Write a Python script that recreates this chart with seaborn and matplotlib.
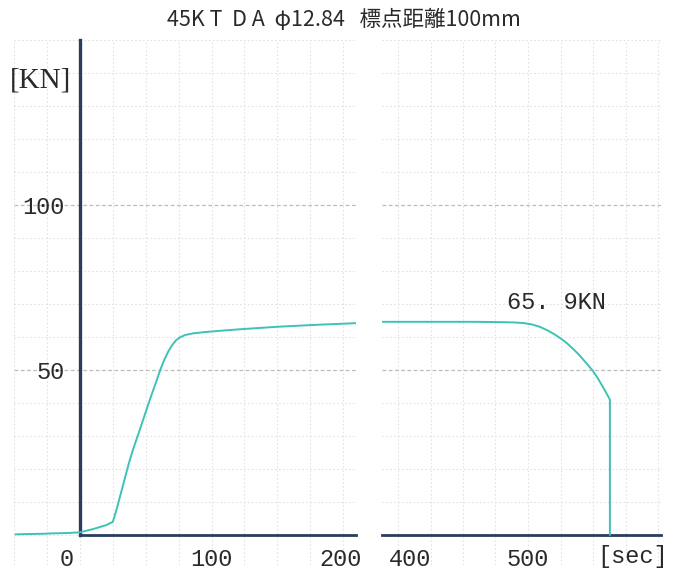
import matplotlib
matplotlib.use("Agg")
import matplotlib.pyplot as plt
import matplotlib.transforms as mtransforms
from matplotlib.ticker import MultipleLocator
import seaborn as sns
import pandas as pd

# ---- data ----
t_load = [-49, -40, -30, -20, -10, 0, 10, 20, 25, 28, 31, 34, 37, 40, 43, 46, 50, 54, 58, 61,
          64, 67, 70, 73, 76, 80, 86, 95, 101, 120, 150, 180, 210]
f_load = [0.2, 0.3, 0.35, 0.5, 0.6, 0.8, 1.8, 3.0, 4.0, 8.0, 12.5, 17.0, 21.5, 25.5, 29.0, 32.5,
          37.3, 42.0, 46.5, 50.0, 53.0, 55.5, 57.5, 59.0, 59.9, 60.6, 61.1, 61.5, 61.7, 62.3,
          63.1, 63.7, 64.2]

t_end = [388, 420, 460, 480, 490, 497, 503, 509, 515, 520, 525, 530, 535, 540, 545, 550, 554,
         558, 561, 563, 563]
f_end = [64.6, 64.6, 64.6, 64.5, 64.4, 64.2, 63.8, 63.1, 62.0, 60.9, 59.6, 58.1, 56.3, 54.3,
         52.0, 49.7, 47.3, 44.6, 42.5, 41.0, 0.0]

left_xticks = [0, 100, 200]
right_xticks = [400, 500]
yticks = [50, 100]
title = "45K T  D A  \u03c612.84   標点距離100mm"
peak_label = "65. 9KN"
y_unit = "[KN]"
x_unit = "[sec]"

sns.set_style("white")
plt.rcParams["font.family"] = ["Noto Sans CJK JP", "DejaVu Sans"]

teal = "#3cc3b6"
navy = "#2d3c5e"
grid_minor = "#e2e2e2"
grid_major = "#bdbdbd"
txt = "#2a2a2a"
mono = "Liberation Mono"

W, H = 674, 573
fig = plt.figure(figsize=(W / 100, H / 100), dpi=100)
fig.patch.set_facecolor("white")

ylo, yhi = -9, 150
ax_bottom_px = 564.7
ax_h_px = 524.7
axL = fig.add_axes([14.2 / W, (H - ax_bottom_px) / H, 342 / W, ax_h_px / H])
axR = fig.add_axes([382.4 / W, (H - ax_bottom_px) / H, 278.2 / W, ax_h_px / H])

df_load = pd.DataFrame({"t": t_load, "F": f_load})
df_end = pd.DataFrame({"t": t_end, "F": f_end})

sns.lineplot(data=df_load, x="t", y="F", ax=axL, color=teal, lw=1.4, sort=False,
             estimator=None, zorder=5)
sns.lineplot(data=df_end, x="t", y="F", ax=axR, color=teal, lw=1.4, sort=False,
             estimator=None, zorder=5)

axL.set_xlim(-50, 210)
axR.set_xlim(388, 602)
for ax in (axL, axR):
    ax.set_ylim(ylo, yhi)
    ax.set_xlabel("")
    ax.set_ylabel("")
    ax.set_facecolor("none")
    ax.xaxis.set_minor_locator(MultipleLocator(25))
    ax.yaxis.set_minor_locator(MultipleLocator(10))
    ax.grid(which="minor", color=grid_minor, ls=(0, (1.5, 2)), lw=0.8, zorder=0)
    ax.grid(which="major", axis="x", color=grid_minor, ls=(0, (1.5, 2)), lw=0.8, zorder=0)
    ax.grid(which="major", axis="y", color=grid_major, ls=(0, (3, 2)), lw=0.9, zorder=0)
    ax.set_axisbelow(True)
    for s in ("top", "right"):
        ax.spines[s].set_visible(False)
    ax.spines["bottom"].set_position(("data", 0))
    ax.spines["bottom"].set_color(navy)
    ax.spines["bottom"].set_linewidth(2.0)
    ax.tick_params(axis="x", which="major", direction="in", length=5, width=1.2,
                   color=navy, pad=9, labelsize=17, labelcolor=txt)
    ax.tick_params(which="minor", length=0)

axL.set_xticks(left_xticks)
axR.set_xticks(right_xticks)
axL.set_yticks(yticks)
axR.set_yticks(yticks)
axR.tick_params(axis="y", which="major", length=0, labelleft=False)
axR.spines["left"].set_visible(False)

axL.spines["left"].set_position(("data", 0))
axL.spines["left"].set_color(navy)
axL.spines["left"].set_linewidth(2.4)
axL.spines["left"].set_bounds(0, yhi)
axL.spines["bottom"].set_bounds(0, 210)
axL.tick_params(axis="y", which="major", direction="in", length=5, width=1.2,
                color=navy, pad=11, labelsize=17, labelcolor=txt)

for ax in (axL, axR):
    for lab in ax.get_xticklabels() + ax.get_yticklabels():
        lab.set_fontfamily(mono)

# nudge some tick labels as on the chart
for lab in axL.get_xticklabels():
    if lab.get_text() == "0":
        lab.set_horizontalalignment("right")
        lab.set_transform(lab.get_transform() + mtransforms.ScaledTranslation(-0.06, 0, fig.dpi_scale_trans))
    if lab.get_text() == "200":
        lab.set_transform(lab.get_transform() + mtransforms.ScaledTranslation(-0.02, 0, fig.dpi_scale_trans))
for lab in axR.get_xticklabels():
    if lab.get_text() == "400":
        lab.set_transform(lab.get_transform() + mtransforms.ScaledTranslation(0.12, 0, fig.dpi_scale_trans))

axR.text(521.5, 70.6, peak_label, ha="center", va="center", fontsize=17,
         family=mono, color=txt)
axR.text(633 / W, (H - 556) / H, x_unit, transform=fig.transFigure, ha="center", va="center",
         fontsize=17, family=mono, color=txt)
fig.text(40 / W, (H - 80) / H, y_unit, ha="center", va="center", fontsize=21,
         family="Liberation Serif", color=txt)
fig.text(344 / W, (H - 20) / H, title, ha="center", va="center", fontsize=15.5, color=txt)

fig.savefig("out.png", dpi=100, facecolor="white")
